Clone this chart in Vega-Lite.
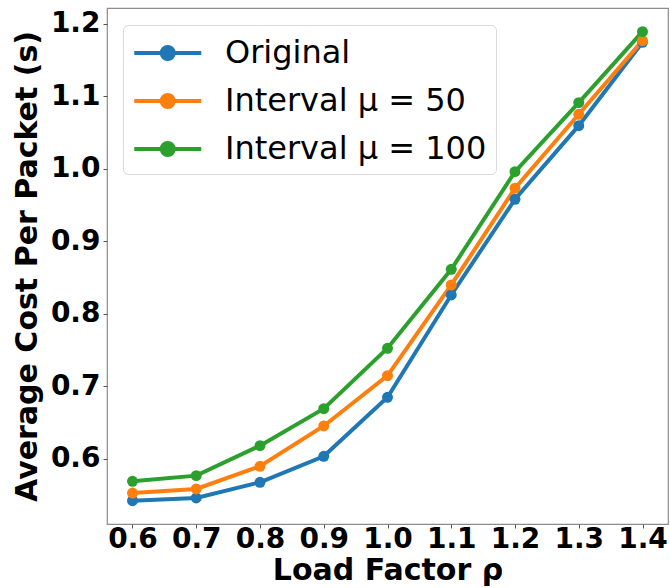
{
  "$schema": "https://vega.github.io/schema/vega-lite/v6.json",
  "autosize": "none",
  "width": 561,
  "height": 516,
  "padding": {"left": 107, "top": 8, "right": 2, "bottom": 64},
  "config": {
    "font": "DejaVu Sans",
    "view": {"stroke": "#8c8c8c", "strokeWidth": 1.2},
    "axis": {"grid": false, "domain": false, "tickColor": "#555", "tickSize": 4, "tickWidth": 1,
      "labelFont": "DejaVu Sans", "labelFontWeight": "bold", "labelFontSize": 28, "labelColor": "#000",
      "titleFont": "DejaVu Sans", "titleFontWeight": "bold", "titleFontSize": 30, "titleColor": "#000"}
  },
  "data": {"values": [
    {"x": 0.6, "y": 0.5425, "s": "Original"},
    {"x": 0.7, "y": 0.5462, "s": "Original"},
    {"x": 0.8, "y": 0.5678, "s": "Original"},
    {"x": 0.9, "y": 0.6037, "s": "Original"},
    {"x": 1.0, "y": 0.685, "s": "Original"},
    {"x": 1.1, "y": 0.8262, "s": "Original"},
    {"x": 1.2, "y": 0.9582, "s": "Original"},
    {"x": 1.3, "y": 1.0597, "s": "Original"},
    {"x": 1.4, "y": 1.1747, "s": "Original"},
    {"x": 0.6, "y": 0.553, "s": "Interval μ = 50"},
    {"x": 0.7, "y": 0.5586, "s": "Interval μ = 50"},
    {"x": 0.8, "y": 0.5899, "s": "Interval μ = 50"},
    {"x": 0.9, "y": 0.6455, "s": "Interval μ = 50"},
    {"x": 1.0, "y": 0.7149, "s": "Interval μ = 50"},
    {"x": 1.1, "y": 0.84, "s": "Interval μ = 50"},
    {"x": 1.2, "y": 0.9734, "s": "Interval μ = 50"},
    {"x": 1.3, "y": 1.0754, "s": "Interval μ = 50"},
    {"x": 1.4, "y": 1.177, "s": "Interval μ = 50"},
    {"x": 0.6, "y": 0.5692, "s": "Interval μ = 100"},
    {"x": 0.7, "y": 0.577, "s": "Interval μ = 100"},
    {"x": 0.8, "y": 0.6183, "s": "Interval μ = 100"},
    {"x": 0.9, "y": 0.6694, "s": "Interval μ = 100"},
    {"x": 1.0, "y": 0.7527, "s": "Interval μ = 100"},
    {"x": 1.1, "y": 0.8616, "s": "Interval μ = 100"},
    {"x": 1.2, "y": 0.9963, "s": "Interval μ = 100"},
    {"x": 1.3, "y": 1.0915, "s": "Interval μ = 100"},
    {"x": 1.4, "y": 1.1894, "s": "Interval μ = 100"}
  ]},
  "mark": {"type": "line", "strokeWidth": 4, "point": {"filled": true, "size": 120}},
  "encoding": {
    "x": {"field": "x", "type": "quantitative",
      "scale": {"domain": [0.56, 1.44], "nice": false, "zero": false},
      "axis": {"values": [0.6, 0.7, 0.8, 0.9, 1.0, 1.1, 1.2, 1.3, 1.4], "format": ".1f", "labelPadding": -3, "title": "Load Factor ρ", "titleY": 55, "titleBaseline": "alphabetic"}},
    "y": {"field": "y", "type": "quantitative",
      "scale": {"domain": [0.5103, 1.222], "nice": false, "zero": false},
      "axis": {"values": [0.6, 0.7, 0.8, 0.9, 1.0, 1.1, 1.2], "format": ".1f", "labelPadding": 3, "title": "Average Cost Per Packet (s)", "titlePadding": 8}},
    "color": {"field": "s", "type": "nominal",
      "scale": {"domain": ["Original", "Interval μ = 50", "Interval μ = 100"], "range": ["#1f77b4", "#ff7f0e", "#2ca02c"]},
      "legend": {"title": null, "orient": "none", "legendX": 16, "legendY": 17,
        "padding": 9, "fillColor": "white", "strokeColor": "#d9d9d9", "cornerRadius": 5,
        "labelFont": "DejaVu Sans", "labelFontSize": 32, "labelColor": "#000", "labelOffset": 55, "labelLimit": 400,
        "rowPadding": 13,
        "symbolType": "M-1,0L3,0M1.36,0A0.36,0.36,0,1,1,0.64,0A0.36,0.36,0,1,1,1.36,0Z",
        "symbolSize": 1122, "symbolStrokeWidth": 4,
        "encode": {"symbols": {"update": {"fill": {"scale": "color", "field": "value"}, "stroke": {"scale": "color", "field": "value"}, "fillOpacity": {"value": 1}}}}}}
  }
}
